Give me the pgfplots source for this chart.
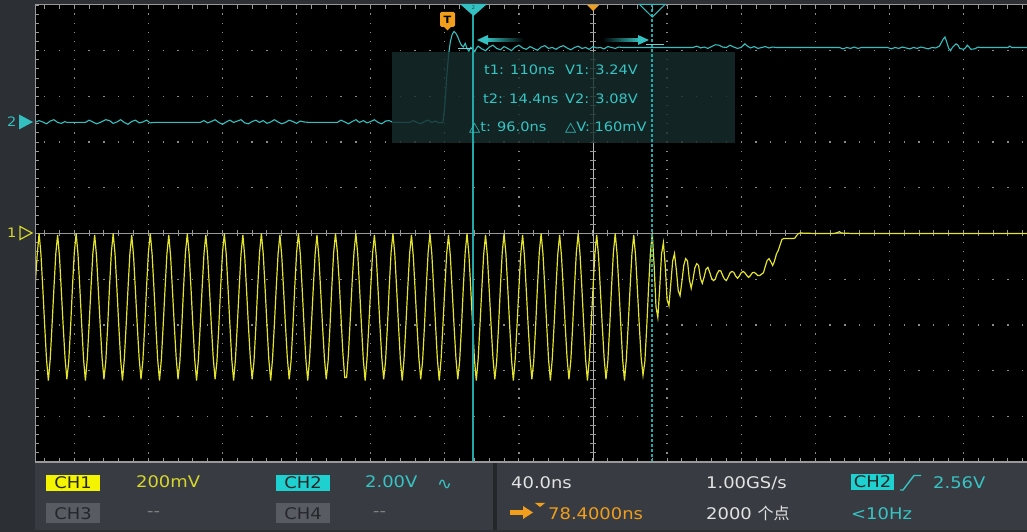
\documentclass[border=0pt]{standalone}
\usepackage{fontspec}
\setmainfont{DejaVu Sans}[FakeStretch=1.12]
\newfontfamily\cjk{Noto Sans CJK SC}
\usepackage{pgfplots}
\pgfplotsset{compat=1.18}
\usetikzlibrary{arrows.meta}
\definecolor{bg}{RGB}{44,47,51}
\definecolor{panel}{RGB}{56,60,66}
\definecolor{sep}{RGB}{36,38,42}
\definecolor{gridc}{RGB}{138,138,138}
\definecolor{ch1}{RGB}{228,228,44}
\definecolor{ch2}{RGB}{52,192,192}
\definecolor{cur}{RGB}{34,168,168}
\definecolor{orng}{RGB}{240,158,28}
\definecolor{boxc}{RGB}{22,46,44}
\definecolor{txtc}{RGB}{54,196,196}
\definecolor{ch1box}{RGB}{244,244,0}
\definecolor{ch1txt}{RGB}{214,214,44}
\definecolor{ch2box}{RGB}{30,208,208}
\definecolor{graybox}{RGB}{88,92,98}
\definecolor{whitetxt}{RGB}{226,226,226}
\begin{document}
\begin{tikzpicture}
\useasboundingbox (0,0) rectangle (1027pt,532pt);
\begin{scope}[x=1pt,y=-1pt,yshift=532pt]
\fill[bg] (0,0) rectangle (1027,532);
\fill[black] (35,5) rectangle (1027,462);
\end{scope}
\begin{axis}[at={(35pt,70pt)}, anchor=south west, scale only axis,
  width=992pt, height=457pt, xmin=-301.21, xmax=234.28, ymin=-5, ymax=5,
  axis line style={draw=none}, ticks=none, clip=true]
% graticule
\pgfplotsinvokeforeach{-280,-240,-200,-160,-120,-80,-40,40,80,120,160,200}{
  \draw[gridc, line width=1.3pt, dash pattern=on 1.3pt off 7.84pt, dash phase=0.65pt] (axis cs:#1,-5) -- (axis cs:#1,5);
}
\pgfplotsinvokeforeach{-4,-3,-2,-1,1,2,3,4}{
  \draw[gridc, line width=1.3pt, dash pattern=on 1.3pt off 13.52pt, dash phase=5.837pt] (axis cs:-301.21,#1) -- (axis cs:234.28,#1);
}
\draw[gray!80, line width=0.8pt] (axis cs:-301.21,0) -- (axis cs:234.28,0);
\draw[gray!80, line width=6pt, dash pattern=on 1pt off 13.82pt, dash phase=5.687pt] (axis cs:-301.21,0) -- (axis cs:234.28,0);
\draw[gray!55, line width=0.6pt] (axis cs:0,-5) -- (axis cs:0,5);
\draw[gray!80, line width=6pt, dash pattern=on 1pt off 8.14pt, dash phase=0.5pt] (axis cs:0,-5) -- (axis cs:0,5);
\draw[gray!80, line width=8pt, dash pattern=on 1pt off 13.82pt, dash phase=5.687pt] (axis cs:-301.21,-5) -- (axis cs:234.28,-5);
\draw[gray!80, line width=8pt, dash pattern=on 1pt off 13.82pt, dash phase=5.687pt] (axis cs:-301.21,5) -- (axis cs:234.28,5);
\draw[gray!80, line width=8pt, dash pattern=on 1pt off 8.14pt, dash phase=0.5pt] (axis cs:-301.21,-5) -- (axis cs:-301.21,5);
% CH2 (2.00 V/div), x in ns, y in div
\addplot[ch2, line width=1.1pt, no marks] coordinates {
(-301.21,2.43) (-299,2.47) (-297,2.44) (-295,2.40) (-293,2.46) (-291,2.49) (-289,2.43) (-287,2.41) (-285,2.45) (-284,2.43)
(-274,2.43) (-272,2.48) (-270,2.44) (-268,2.40) (-266,2.43) (-263,2.49) (-261,2.47) (-259,2.41) (-257,2.44) (-255,2.49) (-253,2.43) (-251,2.39) (-249,2.45) (-247,2.48) (-245,2.42) (-243,2.44) (-241,2.48) (-239,2.42) (-237,2.43)
(-212,2.43) (-210,2.47) (-208,2.42) (-206,2.45) (-204,2.49) (-202,2.43) (-200,2.39) (-198,2.44) (-196,2.48) (-194,2.43) (-192,2.46) (-190,2.49) (-188,2.42) (-186,2.40) (-184,2.45) (-182,2.48) (-180,2.43) (-178,2.47) (-176,2.41) (-174,2.44) (-172,2.49) (-170,2.44) (-168,2.40) (-166,2.43) (-164,2.48) (-162,2.45) (-160,2.41) (-158,2.46) (-156,2.44) (-153,2.43)
(-138,2.43) (-136,2.48) (-134,2.44) (-132,2.40) (-130,2.45) (-128,2.49) (-126,2.43) (-124,2.47) (-122,2.42) (-120,2.45) (-118,2.49) (-116,2.43) (-114,2.40) (-112,2.46) (-110,2.47) (-108,2.43)
(-99,2.43) (-97,2.47) (-95,2.43) (-93,2.40) (-91,2.45) (-89,2.48) (-87,2.43) (-85,2.46) (-83,2.42) (-81,2.43)
(-80,2.8) (-79,3.4) (-78,3.9) (-77,4.2) (-76,4.36) (-75,4.42) (-74,4.38) (-73,4.3) (-72,4.2) (-71,4.12) (-70,4.08) (-69,4.16) (-68,4.05) (-67,3.99) (-66,4.07) (-65,4.03) (-64,3.96) (-63,4.05) (-62,4.10)
(-60,4.04) (-58,4.0) (-56,4.08) (-54,4.12) (-52,4.05) (-50,4.02) (-48,4.09) (-46,4.05) (-44,4.0) (-42,4.08) (-40,4.12) (-38,4.06) (-36,4.03) (-34,4.09) (-32,4.05) (-30,4.01) (-28,4.08) (-26,4.11) (-24,4.05) (-22,4.07) (-20,4.03) (-18,4.08) (-16,4.11) (-14,4.06) (-12,4.02) (-10,4.07) (-8,4.1) (-6,4.05) (-4,4.07) (-2,4.03) (0,4.09) (2,4.06) (4,4.07) (6,4.04) (8,4.09) (10,4.07) (12,4.05) (14,4.08) (16,4.07)
(54,4.07) (56,4.1) (58,4.06) (60,4.08) (62,4.05) (64,4.09) (66,4.13) (68,4.12) (70,4.08) (72,4.07) (74,4.12) (76,4.08) (78,4.05) (80,4.07) (82,4.15) (83,4.11) (85,4.06) (87,4.09) (89,4.05) (91,4.07) (93,4.09) (95,4.06) (97,4.08) (99,4.07)
(133,4.07) (135,4.04) (137,4.07) (139,4.05) (141,4.08) (143,4.05) (145,4.07) (148,4.07)
(159,4.07) (161,4.04) (163,4.07) (165,4.05) (167,4.08) (169,4.06) (171,4.04) (173,4.07) (175,4.05) (177,4.08) (179,4.06) (181,4.04) (183,4.07) (185,4.06) (187,4.1) (189,4.25) (190,4.30) (191,4.18) (192,4.05) (193,4.0) (194,4.07) (196,4.15) (197,4.12) (198,4.05) (200,4.03) (201,4.06) (202,4.12) (203,4.08) (204,4.03) (206,4.04) (208,4.08) (209,4.07)
(224,4.07) (225,4.1) (226,4.07) (234.28,4.07)
};
% CH1 (200 mV/div), x in ns, y in div
\addplot[ch1, line width=1.2pt, no marks] coordinates {
(-301.21,-1.2) (-300,-0.45)
(-299,0) (-298,-0.45) (-297,-1.20) (-296,-2.00) (-295,-2.75) (-294,-3.22) (-293,-2.75) (-292,-2.00) (-291,-1.20) (-290,-0.45)
(-289,-0.03) (-288,-0.50) (-287,-1.25) (-286,-2.02) (-285,-2.72) (-284,-3.19) (-283,-2.80) (-282,-2.05) (-281,-1.18) (-280,-0.42)
(-279,0) (-278,-0.45) (-277,-1.20) (-276,-2.00) (-275,-2.75) (-274,-3.22) (-273,-2.75) (-272,-2.00) (-271,-1.20) (-270,-0.45)
(-269,-0.03) (-268,-0.50) (-267,-1.25) (-266,-2.02) (-265,-2.72) (-264,-3.19) (-263,-2.80) (-262,-2.05) (-261,-1.18) (-260,-0.42)
(-259,0) (-258,-0.45) (-257,-1.20) (-256,-2.00) (-255,-2.75) (-254,-3.22) (-253,-2.75) (-252,-2.00) (-251,-1.20) (-250,-0.45)
(-249,-0.03) (-248,-0.50) (-247,-1.25) (-246,-2.02) (-245,-2.72) (-244,-3.19) (-243,-2.80) (-242,-2.05) (-241,-1.18) (-240,-0.42)
(-239,0) (-238,-0.45) (-237,-1.20) (-236,-2.00) (-235,-2.75) (-234,-3.22) (-233,-2.75) (-232,-2.00) (-231,-1.20) (-230,-0.45)
(-229,-0.03) (-228,-0.50) (-227,-1.25) (-226,-2.02) (-225,-2.72) (-224,-3.19) (-223,-2.80) (-222,-2.05) (-221,-1.18) (-220,-0.42)
(-219,0) (-218,-0.45) (-217,-1.20) (-216,-2.00) (-215,-2.75) (-214,-3.22) (-213,-2.75) (-212,-2.00) (-211,-1.20) (-210,-0.45)
(-209,-0.03) (-208,-0.50) (-207,-1.25) (-206,-2.02) (-205,-2.72) (-204,-3.19) (-203,-2.80) (-202,-2.05) (-201,-1.18) (-200,-0.42)
(-199,0) (-198,-0.45) (-197,-1.20) (-196,-2.00) (-195,-2.75) (-194,-3.22) (-193,-2.75) (-192,-2.00) (-191,-1.20) (-190,-0.45)
(-189,-0.03) (-188,-0.50) (-187,-1.25) (-186,-2.02) (-185,-2.72) (-184,-3.19) (-183,-2.80) (-182,-2.05) (-181,-1.18) (-180,-0.42)
(-179,0) (-178,-0.45) (-177,-1.20) (-176,-2.00) (-175,-2.75) (-174,-3.22) (-173,-2.75) (-172,-2.00) (-171,-1.20) (-170,-0.45)
(-169,-0.03) (-168,-0.50) (-167,-1.25) (-166,-2.02) (-165,-2.72) (-164,-3.19) (-163,-2.80) (-162,-2.05) (-161,-1.18) (-160,-0.42)
(-159,0) (-158,-0.45) (-157,-1.20) (-156,-2.00) (-155,-2.75) (-154,-3.22) (-153,-2.75) (-152,-2.00) (-151,-1.20) (-150,-0.45)
(-149,-0.03) (-148,-0.50) (-147,-1.25) (-146,-2.02) (-145,-2.72) (-144,-3.19) (-143,-2.80) (-142,-2.05) (-141,-1.18) (-140,-0.42)
(-139,0) (-138,-0.40) (-137,-1.05) (-136,-1.85) (-135,-2.62) (-134,-3.15) (-133,-3.15) (-132,-2.62) (-131,-1.85) (-130,-1.05) (-129,-0.40)
(-128,0) (-127,-0.45) (-126,-1.20) (-125,-2.00) (-124,-2.75) (-123,-3.22) (-122,-2.75) (-121,-2.00) (-120,-1.20) (-119,-0.45)
(-118,-0.03) (-117,-0.50) (-116,-1.25) (-115,-2.02) (-114,-2.72) (-113,-3.19) (-112,-2.80) (-111,-2.05) (-110,-1.18) (-109,-0.42)
(-108,0) (-107,-0.45) (-106,-1.20) (-105,-2.00) (-104,-2.75) (-103,-3.22) (-102,-2.75) (-101,-2.00) (-100,-1.20) (-99,-0.45)
(-98,-0.03) (-97,-0.50) (-96,-1.25) (-95,-2.02) (-94,-2.72) (-93,-3.19) (-92,-2.80) (-91,-2.05) (-90,-1.18) (-89,-0.42)
(-88,0) (-87,-0.45) (-86,-1.20) (-85,-2.00) (-84,-2.75) (-83,-3.22) (-82,-2.75) (-81,-2.00) (-80,-1.20) (-79,-0.45)
(-78,-0.03) (-77,-0.50) (-76,-1.25) (-75,-2.02) (-74,-2.72) (-73,-3.19) (-72,-2.80) (-71,-2.05) (-70,-1.18) (-69,-0.42)
(-68,0) (-67,-0.45) (-66,-1.20) (-65,-2.00) (-64,-2.75) (-63,-3.22) (-62,-2.75) (-61,-2.00) (-60,-1.20) (-59,-0.45)
(-58,-0.03) (-57,-0.50) (-56,-1.25) (-55,-2.02) (-54,-2.72) (-53,-3.19) (-52,-2.80) (-51,-2.05) (-50,-1.18) (-49,-0.42)
(-48,0) (-47,-0.45) (-46,-1.20) (-45,-2.00) (-44,-2.75) (-43,-3.22) (-42,-2.75) (-41,-2.00) (-40,-1.20) (-39,-0.45)
(-38,-0.03) (-37,-0.50) (-36,-1.25) (-35,-2.02) (-34,-2.72) (-33,-3.19) (-32,-2.80) (-31,-2.05) (-30,-1.18) (-29,-0.42)
(-28,0) (-27,-0.45) (-26,-1.20) (-25,-2.00) (-24,-2.75) (-23,-3.22) (-22,-2.75) (-21,-2.00) (-20,-1.20) (-19,-0.45)
(-18,-0.03) (-17,-0.50) (-16,-1.25) (-15,-2.02) (-14,-2.72) (-13,-3.19) (-12,-2.80) (-11,-2.05) (-10,-1.18) (-9,-0.42)
(-8,0) (-7,-0.45) (-6,-1.20) (-5,-2.00) (-4,-2.75) (-3,-3.22) (-2,-2.75) (-1,-2.00) (0,-1.20) (1,-0.45)
(2,-0.03) (3,-0.50) (4,-1.25) (5,-2.02) (6,-2.72) (7,-3.19) (8,-2.80) (9,-2.05) (10,-1.18) (11,-0.42)
(12,0) (13,-0.45) (14,-1.20) (15,-2.00) (16,-2.75) (17,-3.22) (18,-2.75) (19,-2.00) (20,-1.20) (21,-0.45)
(22,-0.03) (23,-0.50) (24,-1.25) (25,-2.02) (26,-2.72) (27,-3.10) (28,-2.80) (29,-2.05) (30,-1.18) (31,-0.42)
(32,0.0) (33,-0.7) (34,-1.6) (35,-1.84) (36,-1.2) (37,-0.45) (38,-0.2) (39,-0.7) (40,-1.45) (41,-1.58)
(42,-1.1) (43,-0.6) (44,-0.44) (45,-0.8) (46,-1.25) (47,-1.36) (48,-1.05) (49,-0.7) (50,-0.55) (51,-0.6)
(52,-1.0) (53,-1.2) (54,-1.0) (55,-0.75) (56,-0.66) (57,-0.7) (58,-0.98) (59,-1.09) (60,-0.95) (61,-0.78)
(62,-0.74) (63,-0.85) (64,-0.98) (65,-1.03) (66,-1.0) (67,-0.88) (68,-0.81) (69,-0.82) (70,-0.92) (71,-1.0)
(72,-1.03) (73,-0.95) (74,-0.86) (75,-0.83) (76,-0.85) (77,-0.93) (78,-0.98) (79,-0.93) (80,-0.86) (81,-0.83)
(82,-0.86) (83,-0.92) (84,-0.96) (85,-0.92) (86,-0.86) (87,-0.85) (88,-0.88) (89,-0.92) (90,-0.92) (91,-0.89)
(92,-0.86) (93,-0.72) (94,-0.59) (95,-0.55) (96,-0.62) (97,-0.70) (98,-0.6) (99,-0.45) (100,-0.37) (101,-0.25)
(102,-0.13) (103,-0.11) (108,-0.11) (109,-0.1) (110,-0.04) (111,0.0) (112,0.01) (120,0.0) (130,0.0) (132,0.02)
(133,0.04) (134,0.01) (140,0.0) (234.28,0.0)
};
% measurement panel and cursors
\fill[boxc, fill opacity=0.82] (axis cs:-108.5,1.99) rectangle (axis cs:76.7,3.98);
\draw[cur, line width=1.8pt] (axis cs:-64.78,-5) -- (axis cs:-64.78,5);
\draw[cur, line width=1.8pt, dash pattern=on 3pt off 2pt] (axis cs:31.85,-5) -- (axis cs:31.85,5);
\end{axis}
\begin{scope}[x=1pt,y=-1pt,yshift=532pt]
% screen border
\draw[gray!80, line width=1pt] (35,5) -- (1027,5);
\draw[gray!80, line width=1pt] (35,5) -- (35,462);
\draw[gray!80, line width=1.2pt] (35,462) -- (1027,462);
% top markers
\fill[orng, rounded corners=1.5pt] (440,12) rectangle (455,27);
\fill[orng] (443,26) -- (452,26) -- (447.5,30.5) -- cycle;
\node[text=black, font=\bfseries\fontsize{10}{10}\selectfont, inner sep=0] at (447.5,19.5) {T};
\fill[ch2] (460,4) -- (487,4) -- (473.5,16) -- cycle;
\node[text=cur!50!black, font=\fontsize{5}{5}\selectfont, inner sep=0] at (473.5,8) {2};
\fill[orng] (587,5) -- (599,5) -- (593,11) -- cycle;
\draw[ch2, line width=1pt] (639.5,4.5) -- (665,4.5) -- (652.3,17) -- cycle;
\node[text=ch2, font=\fontsize{5}{5}\selectfont, inner sep=0] at (652.3,9) {1};
% cursor arrows
\shade[left color=ch2, right color=black] (486,38.5) rectangle (524,41.5);
\fill[ch2] (477,40) -- (488,35) -- (488,45) -- cycle;
\shade[left color=black, right color=ch2] (602,38.5) rectangle (640,41.5);
\fill[ch2] (649,40) -- (638,35) -- (638,45) -- cycle;
\draw[ch2!70!white, line width=0.8pt] (458,48) -- (472,48);
\draw[ch2!70!white, line width=0.8pt] (646,44) -- (664,44);
% left channel markers
\node[text=ch2, anchor=base west, inner sep=0, font=\fontsize{13}{13}\selectfont] at (7,127) {2};
\fill[ch2] (19,114.5) -- (19,129.5) -- (33,122) -- cycle;
\node[text=ch1txt, anchor=base west, inner sep=0, font=\fontsize{13}{13}\selectfont] at (7,238) {1};
\draw[ch1txt, line width=1.2pt] (20,226.5) -- (20,239.5) -- (32,233) -- cycle;
% measurement text
\begin{scope}[every node/.style={anchor=base west, inner sep=0, text=txtc, font=\fontsize{13}{14}\selectfont}]
\node at (484,75) {t1: 110ns};
\node at (565,75) {V1: 3.24V};
\node at (483,104) {t2: 14.4ns};
\node at (565,104) {V2: 3.08V};
\node at (469,132) {△t: 96.0ns};
\node at (565,132) {△V: 160mV};
\end{scope}
% status bar
\fill[panel] (35,463) rectangle (1027,530);
\fill[sep] (493,463) rectangle (497,530);
\fill[ch1box] (46,475) rectangle (100,491);
\fill[ch2box] (276,475) rectangle (330,491);
\fill[graybox] (46,503) rectangle (100,523);
\fill[graybox] (276,503) rectangle (330,523);
\fill[ch2box] (851,474) rectangle (894,490);
\begin{scope}[every node/.style={inner sep=0, font=\fontsize{16}{16}\selectfont}]
\node[anchor=base, text=black!85] at (73,489) {CH1};
\node[anchor=base, text=black!85] at (303,489) {CH2};
\node[anchor=base, text=sep] at (73,520) {CH3};
\node[anchor=base, text=sep] at (303,520) {CH4};
\node[anchor=base, text=black!85] at (872.5,488) {CH2};
\node[anchor=base west, text=ch1txt] at (136,488) {200mV};
\node[anchor=base west, text=txtc] at (365,488) {2.00V};
\node[anchor=base west, text=txtc] at (437,490) {∿};
\node[anchor=base west, text=gray] at (147,517) {-{}-};
\node[anchor=base west, text=gray] at (373,517) {-{}-};
\node[anchor=base west, text=whitetxt] at (511,489) {40.0ns};
\node[anchor=base west, text=whitetxt] at (706,489) {1.00GS/s};
\node[anchor=base west, text=txtc] at (933,489) {2.56V};
\node[anchor=base west, text=orng] at (548,520) {78.4000ns};
\node[anchor=base west, text=whitetxt] at (706,520) {2000 {\cjk 个点}};
\node[anchor=base west, text=txtc] at (851,520) {<10Hz};
\end{scope}
\draw[txtc, line width=1.4pt] (900,490) -- (903,490) -- (914,475.5) -- (921,475.5);
\fill[orng] (510,510) rectangle (524,515);
\fill[orng] (523,506) -- (533,512.5) -- (523,519) -- cycle;
\fill[orng] (535,503) -- (545,503) -- (540,507) -- cycle;
\end{scope}
\end{tikzpicture}
\end{document}
